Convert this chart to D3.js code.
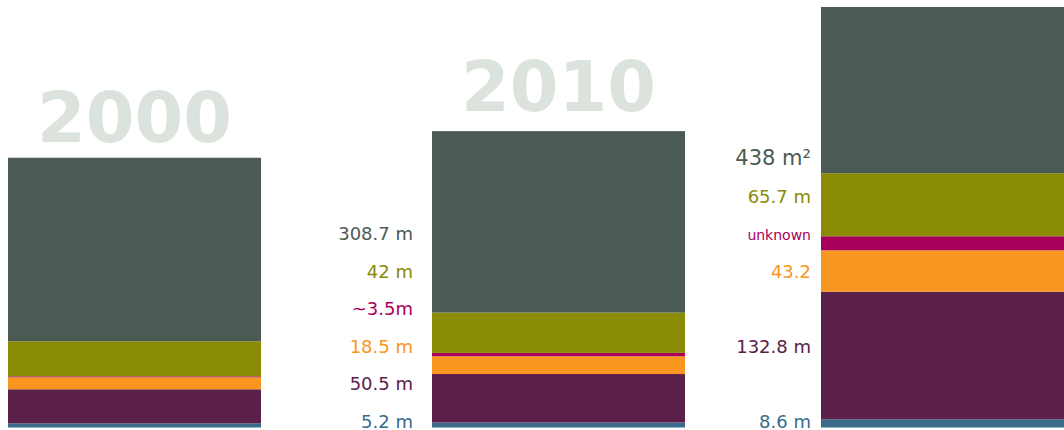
<!DOCTYPE html>
<html>
<head>
<meta charset="utf-8">
<script src="https://cdn.jsdelivr.net/npm/d3@7"></script>
<style>
  html, body { margin: 0; padding: 0; background: #fff; overflow: hidden; }
  svg { display: block; font-family: "DejaVu Sans", sans-serif; }
</style>
</head>
<body>
<div id="chart"></div>
<script>

// data
var years = ["2000", "2010", "2020"];
var yearLabels = ["2000", "2010", ""];
var totals = [281, 308.7, 438];
var blueVals = [4.3, 5.2, 8.6];
var purpleVals = [35.5, 50.5, 132.8];
var orangeVals = [12.5, 18.5, 43.2];
var magentaVals = [1.0, 3.5, 14.6];
var oliveVals = [36.5, 42, 65.7];
var labels2010 = ["5.2 m", "50.5 m", "18.5 m", "~3.5m", "42 m", "308.7 m"];
var labels2020 = ["8.6 m", "132.8 m", "43.2", "unknown", "65.7 m", "438 m\u00b2"];

var keys = ["blue", "purple", "orange", "magenta", "olive", "rest"];
var colors = {
    blue: "#3b6b8b",
    purple: "#5a2049",
    orange: "#f89620",
    magenta: "#a8005a",
    olive: "#8a8c03",
    rest: "#4b5a53"
};

var width = 1064,
    height = 430;

var svg = d3.select("#chart")
    .append("svg")
    .attr("width", width)
    .attr("height", height);

// one row per year, the dark top block is what is left of the total
var rows = years.map(function (yr, i) {
    var r = {
        year: yr,
        blue: blueVals[i],
        purple: purpleVals[i],
        orange: orangeVals[i],
        magenta: magentaVals[i],
        olive: oliveVals[i]
    };
    r.rest = totals[i] - r.blue - r.purple - r.orange - r.magenta - r.olive;
    return r;
});

var stack = d3.stack().keys(keys);
var series = stack(rows);

var barWidth = 253;
var x = d3.scaleOrdinal().domain(years).range([8, 432, 821]);
var labelRight = d3.scaleOrdinal().domain(years).range([0, 413, 811]);
var y = d3.scaleLinear().domain([0, 438]).range([427.5, 427.5 - 438 * 0.96]);

var groups = svg.selectAll("g.layer")
    .data(series)
    .enter()
    .append("g")
    .attr("class", "layer")
    .attr("fill", function (d) { return colors[d.key]; });

groups.selectAll("rect")
    .data(function (d) { return d; })
    .enter()
    .append("rect")
    .attr("x", function (d) { return x(d.data.year); })
    .attr("y", function (d) { return y(d[1]); })
    .attr("width", barWidth)
    .attr("height", function (d) { return y(d[0]) - y(d[1]); });

// year titles above the bars
var yearGap = [16, 20, 20];
svg.selectAll("text.year")
    .data(years)
    .enter()
    .append("text")
    .attr("class", "year")
    .attr("x", function (d) { return x(d) + barWidth / 2; })
    .attr("y", function (d, i) { return y(totals[i]) - yearGap[i]; })
    .attr("text-anchor", "middle")
    .attr("font-size", 70)
    .attr("font-weight", "bold")
    .attr("fill", "#dce2dc")
    .text(function (d, i) { return yearLabels[i]; });

// value labels snap to rows of 37.5px, pushed up when a row is taken
var rowBase = 427.5,
    rowStep = 37.5;

function layoutLabels(yearIdx, texts) {
    var out = [];
    var prev = -1;
    keys.forEach(function (k, j) {
        var seg = series[j][yearIdx];
        var slot;
        if (k === "rest") {
            slot = prev + 1;
        } else {
            var mid = (y(seg[0]) + y(seg[1])) / 2;
            slot = Math.max(Math.round((rowBase - 7 - mid) / rowStep), prev + 1);
        }
        prev = slot;
        out.push({
            key: k,
            text: texts[j],
            year: years[yearIdx],
            y: rowBase - slot * rowStep
        });
    });
    return out;
}

var labelData = layoutLabels(1, labels2010).concat(layoutLabels(2, labels2020));

function labelSize(d) {
    if (d.text === "unknown") return 14;
    if (d.key === "rest" && d.year === "2020") return 21;
    return 18;
}

svg.selectAll("text.val")
    .data(labelData)
    .enter()
    .append("text")
    .attr("class", "val")
    .attr("x", function (d) { return labelRight(d.year); })
    .attr("y", function (d) { return d.y; })
    .attr("text-anchor", "end")
    .attr("font-size", labelSize)
    .attr("fill", function (d) { return colors[d.key]; })
    .text(function (d) { return d.text; });

</script>
</body>
</html>
